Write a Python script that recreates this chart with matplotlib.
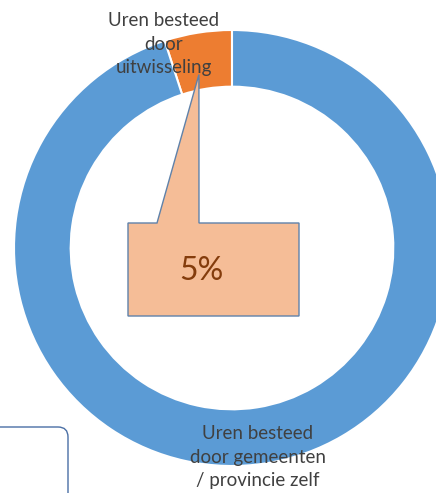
import numpy as np
import matplotlib
matplotlib.use("Agg")
import matplotlib.pyplot as plt
from matplotlib.patches import Polygon, FancyBboxPatch

categories = ["Uren besteed door uitwisseling", "Uren besteed door gemeenten / provincie zelf"]
labels = ["Uren besteed\ndoor\nuitwisseling", "Uren besteed\ndoor gemeenten\n/ provincie zelf"]
values = [5, 95]
colors = ["#ED7D31", "#5B9BD5"]

plt.rcParams['font.family'] = ['Lato', 'DejaVu Sans']

W, H = 436, 493
fig = plt.figure(figsize=(W / 100, H / 100), dpi=100)

# donut axes: center (232,248) px, radius 218 px
cx, cy, R = 232, 248, 218
ax = fig.add_axes([(cx - R) / W, (H - cy - R) / H, 2 * R / W, 2 * R / H])

wedges, _ = ax.pie(values, colors=colors, startangle=90, counterclock=True,
                   radius=1.0, wedgeprops=dict(width=0.26, edgecolor="white", linewidth=1.5))
ax.set_xlim(-1, 1)
ax.set_ylim(-1, 1)
ax.axis("off")
for w in wedges:
    w.set_clip_on(False)

def px(x, y):
    return ((x - cx) / R, (cy - y) / R)

# callout for the small slice
w0 = wedges[0]
ang = np.deg2rad(w0.theta1 + 0.6 * (w0.theta2 - w0.theta1))
tip = (0.81 * np.cos(ang), 0.81 * np.sin(ang))
bx0, by0 = px(128, 223)
bx1, by1 = px(299, 316)
pl, _ = px(157, 223)
pr, _ = px(199, 223)
poly = Polygon([(bx0, by0), (pl, by0), tip, (pr, by0), (bx1, by0), (bx1, by1), (bx0, by1)],
               closed=True, facecolor="#F5BD97", edgecolor="#5F82AA", linewidth=1.0, zorder=5)
ax.add_patch(poly)
pct = values[0] / sum(values) * 100
tx, ty = px(201, 271)
ax.text(tx, ty, f"{pct:.0f}%", ha="center", va="center",
        fontsize=23, color="#843C0C", zorder=6)

# category labels
lx, ly = px(164, 44)
ax.text(lx, ly, labels[0], ha="center", va="center", fontsize=13.5, color="#404040",
        linespacing=1.45, zorder=6)
lx, ly = px(258, 457)
ax.text(lx, ly, labels[1], ha="center", va="center", fontsize=13.5, color="#404040",
        linespacing=1.45, zorder=6)

# partial box at bottom-left
ov = fig.add_axes([0, 0, 1, 1], facecolor="none")
ov.set_xlim(0, W)
ov.set_ylim(H, 0)
ov.axis("off")
box = FancyBboxPatch((-30, 427), 98, 120, boxstyle="round,pad=0,rounding_size=10",
                     facecolor="none", edgecolor="#4A6FA5", linewidth=1.0)
ov.add_patch(box)

fig.savefig("out.png", dpi=100)
